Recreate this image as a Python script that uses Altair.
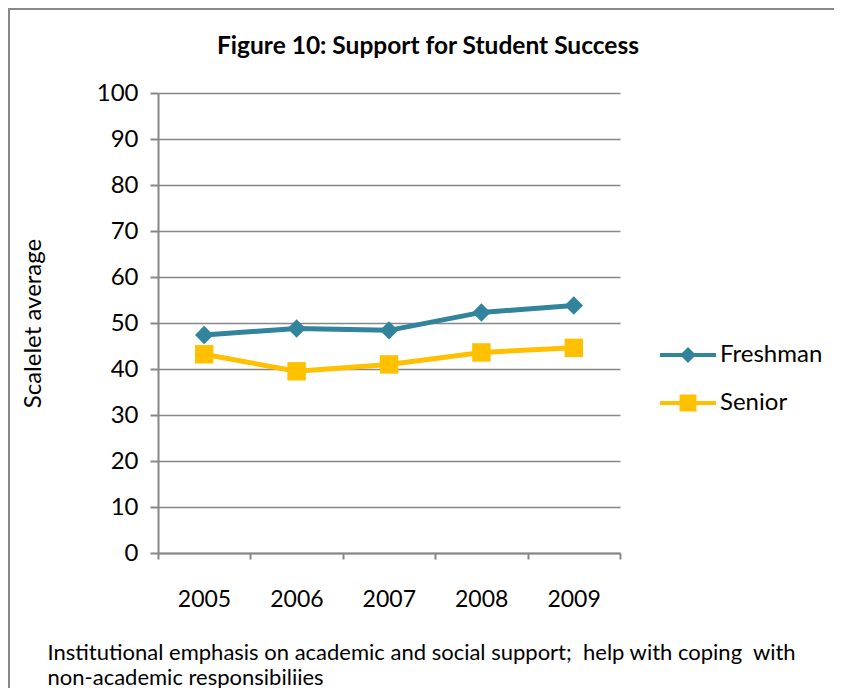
import altair as alt
import pandas as pd

years = [2005, 2006, 2007, 2008, 2009]
freshman = [47.4, 48.8, 48.4, 52.3, 53.8]
senior = [43.2, 39.5, 41.0, 43.6, 44.6]
series = ["Freshman", "Senior"]
colors = ["#31849B", "#FFC000"]
y_ticks = [0, 10, 20, 30, 40, 50, 60, 70, 80, 90, 100]
title_text = "Figure 10: Support for Student Success"
y_title = "Scalelet average"
caption = [
    "Institutional emphasis on academic and social support;\u00a0 help with coping\u00a0 with",
    "non-academic responsibiliies",
]

rows = []
for name, vals in zip(series, [freshman, senior]):
    for yr, v in zip(years, vals):
        rows.append({"year": yr, "series": name, "value": v})
df = pd.DataFrame(rows)

edges = [years[0] - 0.5] + [y + 0.5 for y in years]
FONT = "Lato"
GRAY = "#878787"

x_enc = alt.X(
    "year:Q",
    scale=alt.Scale(domain=[edges[0], edges[-1]], nice=False, zero=False),
    axis=alt.Axis(
        values=edges,
        labelExpr=f"datum.value > {years[-1]} ? '' : format(datum.value + 0.5, 'd')",
        labelOffset=46,
        labelFlush=False,
        labelOverlap=False,
        labelPadding=29,
        labelFontSize=23,
        labelColor="#000000",
        labelFont=FONT,
        tickSize=6,
        tickColor=GRAY,
        tickWidth=2,
        domainColor=GRAY,
        domainWidth=2,
        grid=False,
        title=caption,
        titleX=-111,
        titleY=106,
        titleAlign="left",
        titleAnchor="start",
        titleBaseline="alphabetic",
        titleFontWeight="normal",
        titleFontSize=22,
        titleLineHeight=25,
        titleColor="#000000",
        titleFont=FONT,
    ),
)
y_enc = alt.Y(
    "value:Q",
    scale=alt.Scale(domain=[0, 100], nice=False),
    axis=alt.Axis(
        values=y_ticks,
        labelFontSize=24,
        labelColor="#000000",
        labelFont=FONT,
        labelPadding=12,
        tickSize=8,
        tickColor=GRAY,
        tickWidth=2,
        domainColor=GRAY,
        domainWidth=2,
        gridColor=GRAY,
        gridWidth=1.5,
        title=y_title,
        titleX=-125,
        titleBaseline="middle",
        titleFontWeight="normal",
        titleFontSize=24,
        titleColor="#000000",
        titleFont=FONT,
    ),
)
color_scale = alt.Scale(domain=series, range=colors)

lines = alt.Chart(df).mark_line(strokeWidth=5).encode(
    x=x_enc, y=y_enc,
    color=alt.Color("series:N", scale=color_scale, legend=None),
    detail="series:N",
)
points = alt.Chart(df).mark_point(filled=True, opacity=1, size=340).encode(
    x="year:Q", y="value:Q",
    color=alt.Color("series:N", scale=color_scale, legend=None),
    shape=alt.Shape("series:N", scale=alt.Scale(domain=series, range=["diamond", "square"]), legend=None),
)

legend_paths = [
    "M-1.167,-0.083H1.167V0.083H-1.167Z M0,-0.333L0.333,0L0,0.333L-0.333,0Z",
    "M-1.167,-0.083H1.167V0.083H-1.167Z M-0.354,-0.354H0.354V0.354H-0.354Z",
]
legend_layers = []
for i, (name, col, path) in enumerate(zip(series, colors, legend_paths)):
    leg = alt.Legend(
        title=None, orient="none", legendX=506, legendY=238 + 48 * i, padding=0,
        symbolSize=2304, symbolStrokeWidth=0, labelOffset=8,
        symbolFillColor=col, symbolOpacity=1,
        labelFontSize=24, labelFont=FONT, labelColor="#000000",
    )
    legend_layers.append(
        alt.Chart(df[df["series"] == name]).mark_point(filled=True, size=0, color=col).encode(
            x="year:Q", y="value:Q",
            shape=alt.Shape("series:N", scale=alt.Scale(domain=[name], range=[path]), legend=leg),
        )
    )

one = alt.Data(values=[{"f": 1}])
frame_left = alt.Chart(one).mark_rule(stroke="#898989", strokeWidth=2).encode(
    x=alt.value(-149), y=alt.value(-85), y2=alt.value(1000)
)
frame_top = alt.Chart(one).mark_rule(stroke="#898989", strokeWidth=2).encode(
    x=alt.value(-150), x2=alt.value(1000), y=alt.value(-84)
)

chart = alt.layer(frame_left, frame_top, lines, points, *legend_layers).resolve_scale(
    shape="independent"
).properties(
    width=462,
    height=460,
    autosize=alt.AutoSizeParams(type="none"),
    padding={"left": 150, "top": 85, "right": 214, "bottom": 135},
    title=alt.TitleParams(
        text=title_text, font=FONT, fontSize=24.5, fontWeight="bold",
        anchor="middle", dx=39, offset=-71, baseline="alphabetic", color="#000000",
    ),
).configure_view(strokeWidth=0)

chart.save("out.html", embed_options={"renderer": "svg", "actions": False})
